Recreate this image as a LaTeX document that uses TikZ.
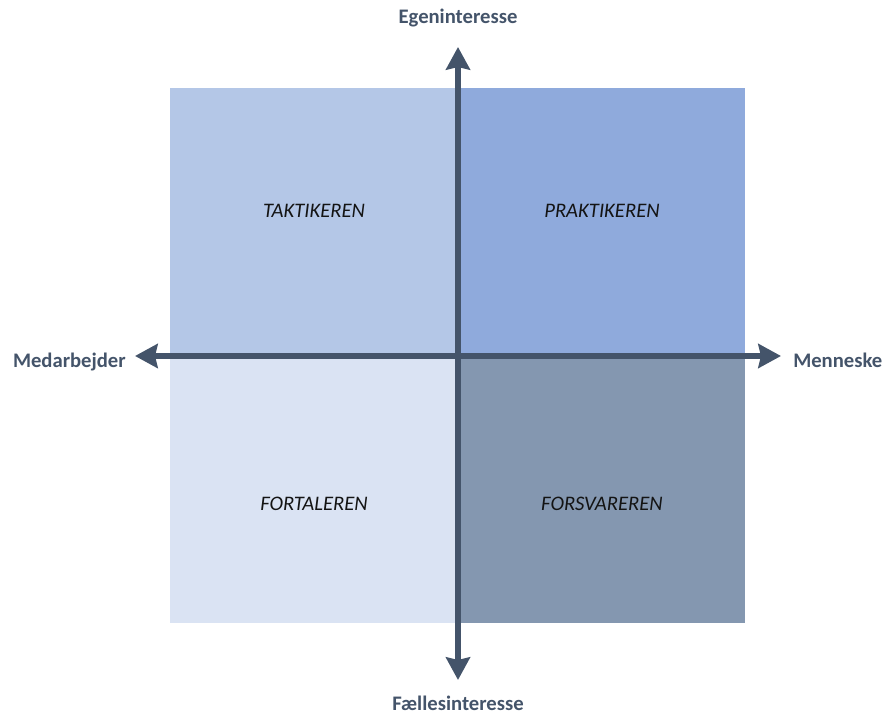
\documentclass[tikz,border=0pt]{standalone}
\usepackage{fontspec}
\setmainfont{Carlito}
\usetikzlibrary{arrows.meta}

\definecolor{axisblue}{HTML}{44546A}
\definecolor{tlfill}{HTML}{B4C7E7}
\definecolor{trfill}{HTML}{8FAADC}
\definecolor{blfill}{HTML}{DAE3F3}
\definecolor{brfill}{HTML}{8497B0}

\tikzset{
  axis label/.style={text=axisblue, font=\fontsize{15.5}{18}\selectfont\bfseries, inner sep=0pt},
  type label/.style={text=black!92, font=\fontsize{15.5}{18}\selectfont\itshape, inner sep=0pt, anchor=base},
  axis line/.style={draw=axisblue, line width=4.5pt, {Stealth[length=17pt,width=18pt,inset=2pt]}-{Stealth[length=17pt,width=18pt,inset=2pt]}}
}

\begin{document}
\begin{tikzpicture}[x=0.75pt,y=-0.75pt]
    \useasboundingbox (0,0) rectangle (883,716);
    % quadrants
    \fill[tlfill] (170,88)  rectangle (458,356);
    \fill[trfill] (458,88)  rectangle (745,356);
    \fill[blfill] (170,356) rectangle (458,623);
    \fill[brfill] (458,356) rectangle (745,623);
    \node[type label] (taktikeren)  at (314,218) {TAKTIKEREN};
    \node[type label] (praktikeren) at (602,218) {PRAKTIKEREN};
    \node[type label] (fortaleren)  at (314,511) {FORTALEREN};
    \node[type label] (forsvareren) at (602,511) {FORSVAREREN};
    % axes
    \coordinate (west end)  at (135,356);
    \coordinate (east end)  at (781,356);
    \coordinate (north end) at (458,47);
    \coordinate (south end) at (458,680);
    \draw[axis line] (west end) -- (east end);
    \draw[axis line] (south end) -- (north end);
    \node[axis label, anchor=base]      (egen)    at (458,24)  {Egeninteresse};
    \node[axis label, anchor=base]      (faelles) at (458,711) {Fællesinteresse};
    \node[axis label, anchor=base east] (medarb)  at (126,368) {Medarbejder};
    \node[axis label, anchor=base west] (menn)    at (793,368) {Menneske};
\end{tikzpicture}
\end{document}
